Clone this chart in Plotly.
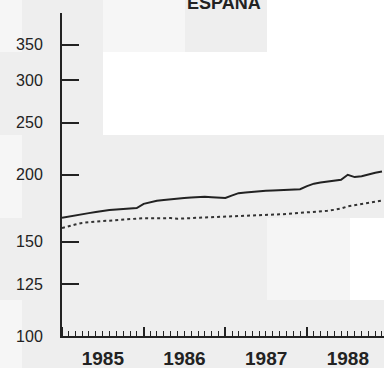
import plotly.graph_objects as go
import pandas as pd

months = pd.date_range("1985-01-01", "1988-12-01", freq="MS")

solid_vals = [166.2, 167.2, 168.0, 168.9, 169.6, 170.4, 171.3, 171.8, 172.2, 172.6, 173.0, 173.3,
              176.5, 178.0, 178.8, 179.5, 180.1, 180.5, 180.9, 181.3, 181.7, 182.0, 181.6, 181.2,
              181.0, 183.0, 184.8, 185.3, 185.9, 186.3, 186.7, 187.0, 187.3, 187.6, 187.8, 188.0,
              190.5, 192.5, 193.4, 194.3, 195.2, 195.8, 200.0, 198.0, 198.8, 200.5, 201.8, 202.9]

dotted_vals = [159.0, 160.5, 161.5, 162.6, 163.2, 163.6, 164.0, 164.2, 164.6, 165.0, 165.3, 165.6,
               166.0, 165.8, 166.0, 165.8, 166.0, 165.6, 165.8, 166.0, 166.1, 166.2, 166.3, 166.4,
               166.6, 166.8, 167.0, 167.4, 167.6, 167.8, 168.0, 168.4, 168.7, 169.0, 169.3, 169.6,
               170.0, 170.5, 171.0, 171.3, 172.0, 173.0, 174.6, 175.6, 176.5, 177.4, 178.2, 179.0]

y_ticks = [100, 125, 150, 200, 250, 300, 350]
title_text = "ESPAÑA"

W, H = 384, 368
ML, MR, MT, MB = 62, 0, 13, 32
PW, PH = W - ML - MR, H - MT - MB

def px2paper(x0, y0, x1, y1):
    return dict(x0=(x0 - ML) / PW, x1=(x1 - ML) / PW,
                y0=(H - MB - y1) / PH, y1=(H - MB - y0) / PH)

patches = [
    ((0, 0, 22, 52), "#f6f6f6"),
    ((103, 0, 185, 52), "#f6f6f6"),
    ((267, 0, 384, 52), "#ffffff"),
    ((103, 52, 384, 135), "#ffffff"),
    ((0, 135, 22, 218), "#f6f6f6"),
    ((267, 218, 350, 300), "#f5f5f5"),
    ((350, 218, 384, 300), "#ffffff"),
    ((0, 300, 22, 368), "#f6f6f6"),
]
shapes = []
for (x0, y0, x1, y1), c in patches:
    d = px2paper(x0, y0, x1, y1)
    shapes.append(dict(type="rect", xref="paper", yref="paper", layer="below",
                       fillcolor=c, line=dict(width=0), **d))

fig = go.Figure()
fig.add_trace(go.Scatter(x=months, y=solid_vals, mode="lines",
                         line=dict(color="#222222", width=2), showlegend=False))
fig.add_trace(go.Scatter(x=months, y=dotted_vals, mode="lines",
                         line=dict(color="#333333", width=2, dash="dot"), showlegend=False))

fig.update_layout(
    width=W, height=H,
    margin=dict(l=ML, r=MR, t=MT, b=MB, autoexpand=False),
    paper_bgcolor="#eeeeee",
    plot_bgcolor="rgba(0,0,0,0)",
    shapes=shapes,
    font=dict(family="Liberation Sans, Arial, sans-serif", color="#222222"),
    annotations=[dict(text="<b>" + title_text + "</b>", xref="paper", yref="paper",
                      x=(224 - ML) / PW, y=(H - MB - 2) / PH, xanchor="center", yanchor="middle",
                      showarrow=False, font=dict(size=18, color="#222222"))],
)
fig.update_yaxes(type="log", range=[2, 2.603], tickvals=y_ticks, ticktext=[str(v) for v in y_ticks],
                 showline=True, linewidth=2, linecolor="#222222", ticks="inside", ticklen=17,
                 tickwidth=2, tickcolor="#222222", showgrid=False, zeroline=False,
                 tickfont=dict(size=16), ticklabelstandoff=14)
fig.update_xaxes(type="date", range=["1985-01-01", "1988-12-10"], dtick="M12", tick0="1985-01-01",
                 ticklabelmode="period", tickformat="<b>%Y</b>",
                 showline=True, linewidth=2, linecolor="#222222", ticks="inside", ticklen=9,
                 tickwidth=1.5, tickcolor="#222222", showgrid=False, zeroline=False,
                 tickfont=dict(size=19), ticklabelstandoff=4,
                 minor=dict(dtick="M1", ticks="inside", ticklen=5, tickwidth=1, tickcolor="#222222",
                            showgrid=False))
fig.write_html("out.html", config={"displayModeBar": False},
               post_script="document.body.style.margin='0';document.body.style.overflow='hidden';")
